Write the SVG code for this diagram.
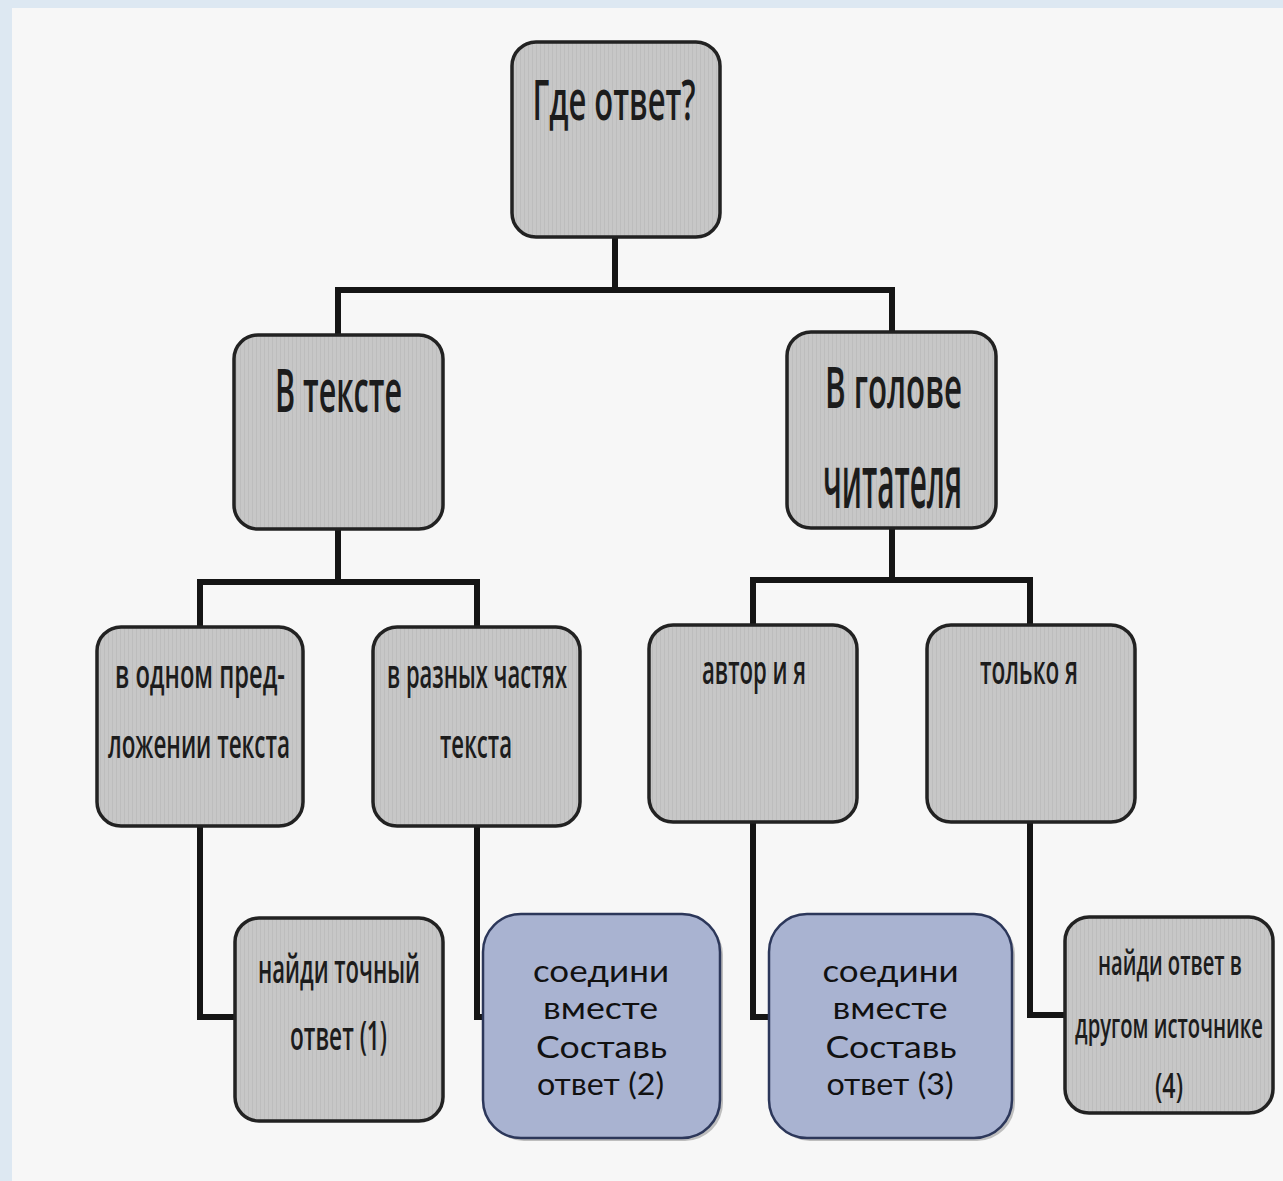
<svg xmlns="http://www.w3.org/2000/svg" width="1283" height="1181" viewBox="0 0 1283 1181">
<defs>
<style>
.bg{fill:#dde8f2}
.page{fill:#f7f7f7}
.conn{fill:none;stroke:#151515;stroke-width:6;stroke-linejoin:miter}
.gbox{fill:#c7c7c7;stroke:#222;stroke-width:3.5}
.bbox{fill:#a9b3d1;stroke:#2c375a;stroke-width:2.5}
.shadow{fill:#3a3a3a;opacity:0.3}
.gt{font-family:"Open Sans","Noto Sans","Liberation Sans",sans-serif;font-weight:600;fill:#1c1c1c;text-anchor:middle}
.bt{font-family:"Lato","Liberation Sans",sans-serif;font-weight:400;fill:#111;text-anchor:middle;font-size:31px}
</style>
<pattern id="stripes" width="4" height="10" patternUnits="userSpaceOnUse">
<rect width="4" height="10" fill="#c7c7c7"/>
<rect width="1" height="10" fill="#bdbdbd"/>
</pattern>
</defs>
<rect class="bg" x="0" y="0" width="1283" height="1181"/>
<rect class="page" x="12" y="8" width="1271" height="1173"/>

<g id="connectors">
<polyline class="conn" points="615,237 615,290"/>
<polyline class="conn" points="338,335 338,290 892,290 892,332"/>
<polyline class="conn" points="338,529 338,582"/>
<polyline class="conn" points="200,627 200,582 477,582 477,627"/>
<polyline class="conn" points="892,528 892,580"/>
<polyline class="conn" points="753,625 753,580 1030,580 1030,625"/>
<polyline class="conn" points="200,826 200,1017 236,1017"/>
<polyline class="conn" points="477,826 477,1017 484,1017"/>
<polyline class="conn" points="753,822 753,1017 770,1017"/>
<polyline class="conn" points="1030,822 1030,1015 1066,1015"/>
</g>

<g id="root">
<rect class="gbox" x="512" y="42" width="208" height="195" rx="24" style="fill:url(#stripes)"/>
<text class="gt" x="614" y="120" font-size="56" textLength="163" lengthAdjust="spacingAndGlyphs">Где ответ?</text>
</g>

<g id="v-tekste">
<rect class="gbox" x="234" y="335" width="209" height="194" rx="24" style="fill:url(#stripes)"/>
<text class="gt" x="338.5" y="412" font-size="59" textLength="127" lengthAdjust="spacingAndGlyphs">В тексте</text>
</g>

<g id="v-golove">
<rect class="gbox" x="787" y="332" width="209" height="196" rx="24" style="fill:url(#stripes)"/>
<text class="gt" x="893.5" y="408" font-size="57" textLength="137" lengthAdjust="spacingAndGlyphs">В голове</text>
<text class="gt" x="892.5" y="508" font-size="74" textLength="139" lengthAdjust="spacingAndGlyphs">читателя</text>
</g>

<g id="v-odnom">
<rect class="gbox" x="97" y="627" width="206" height="199" rx="24" style="fill:url(#stripes)"/>
<text class="gt" x="200" y="688" font-size="40" textLength="170" lengthAdjust="spacingAndGlyphs">в одном пред-</text>
<text class="gt" x="199" y="758" font-size="40" textLength="182" lengthAdjust="spacingAndGlyphs">ложении текста</text>
</g>

<g id="v-raznyh">
<rect class="gbox" x="373" y="627" width="207" height="199" rx="24" style="fill:url(#stripes)"/>
<text class="gt" x="477" y="688" font-size="40" textLength="180" lengthAdjust="spacingAndGlyphs">в разных частях</text>
<text class="gt" x="476" y="758" font-size="40" textLength="72" lengthAdjust="spacingAndGlyphs">текста</text>
</g>

<g id="avtor">
<rect class="gbox" x="649" y="625" width="208" height="197" rx="24" style="fill:url(#stripes)"/>
<text class="gt" x="754" y="684" font-size="40" textLength="104" lengthAdjust="spacingAndGlyphs">автор и я</text>
</g>

<g id="tolko">
<rect class="gbox" x="927" y="625" width="208" height="197" rx="24" style="fill:url(#stripes)"/>
<text class="gt" x="1029" y="684" font-size="40" textLength="98" lengthAdjust="spacingAndGlyphs">только я</text>
</g>

<g id="naidi-tochny">
<rect class="gbox" x="235" y="918" width="208" height="203" rx="24" style="fill:url(#stripes)"/>
<text class="gt" x="339" y="983" font-size="40" textLength="162" lengthAdjust="spacingAndGlyphs">найди точный</text>
<text class="gt" x="338.5" y="1050" font-size="40" textLength="97" lengthAdjust="spacingAndGlyphs">ответ (1)</text>
</g>

<g id="soedini-2">
<rect class="shadow" x="486" y="917" width="237" height="224" rx="38"/>
<rect class="bbox" x="483" y="914" width="237" height="224" rx="38"/>
<text class="bt" x="601" y="982" textLength="136" lengthAdjust="spacingAndGlyphs">соедини</text>
<text class="bt" x="600.5" y="1019" textLength="115" lengthAdjust="spacingAndGlyphs">вместе</text>
<text class="bt" x="601.5" y="1058" textLength="131" lengthAdjust="spacingAndGlyphs">Составь</text>
<text class="bt" x="600.5" y="1095" textLength="127" lengthAdjust="spacingAndGlyphs">ответ (2)</text>
</g>

<g id="soedini-3">
<rect class="shadow" x="772" y="917" width="243" height="224" rx="38"/>
<rect class="bbox" x="769" y="914" width="243" height="224" rx="38"/>
<text class="bt" x="890.5" y="982" textLength="136" lengthAdjust="spacingAndGlyphs">соедини</text>
<text class="bt" x="890" y="1019" textLength="115" lengthAdjust="spacingAndGlyphs">вместе</text>
<text class="bt" x="891" y="1058" textLength="131" lengthAdjust="spacingAndGlyphs">Составь</text>
<text class="bt" x="890" y="1095" textLength="127" lengthAdjust="spacingAndGlyphs">ответ (3)</text>
</g>

<g id="naidi-drugom">
<rect class="gbox" x="1065" y="917" width="208" height="196" rx="24" style="fill:url(#stripes)"/>
<text class="gt" transform="translate(1170,975) scale(0.6,1)" x="0" y="0" font-size="34" textLength="240" lengthAdjust="spacingAndGlyphs">найди ответ в</text>
<text class="gt" transform="translate(1169,1038) scale(0.6,1)" x="0" y="0" font-size="34" textLength="313" lengthAdjust="spacingAndGlyphs">другом источнике</text>
<text class="gt" x="1169" y="1098" font-size="34" textLength="28" lengthAdjust="spacingAndGlyphs">(4)</text>
</g>
</svg>
